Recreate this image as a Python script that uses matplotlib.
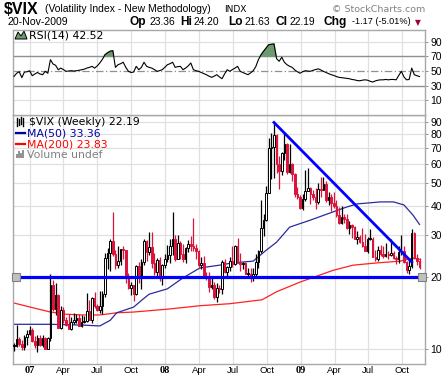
import datetime as dt
import numpy as np
import matplotlib
matplotlib.use("Agg")
import matplotlib.pyplot as plt
import matplotlib.dates as mdates
from matplotlib.patches import Polygon

# ---------------- data (weekly $VIX, week starting Monday) ----------------
start = dt.date(2006, 11, 20)

opens = [10.3, 10.3, 11.0, 10.5, 10.2, 11.2,
         11.6, 12.0, 10.8, 10.4, 11.1, 10.4, 11.1, 10.0, 11.1, 18.6, 14.7, 16.8, 12.2,
         14.6, 13.2, 12.6, 12.1, 13.0, 13.3, 13.5, 12.5, 13.0, 13.1, 14.5, 13.3, 16.4,
         15.2, 14.6, 15.2, 17.1, 24.2, 25.2, 28.5, 25.0, 22.6, 23.4, 26.2, 26.0, 20.3,
         18.0, 18.5, 17.0, 22.4, 19.9, 23.2, 28.5, 25.5, 26.8, 22.9, 21.0, 23.6, 20.0, 22.5,
         23.9, 24.9, 27.2, 29.0, 24.0, 28.0, 25.0, 24.0, 26.5, 27.5, 27.0, 26.6, 25.8,
         22.5, 23.0, 20.3, 20.1, 18.2, 18.6, 16.5, 18.0, 17.8, 23.1, 21.0, 22.1, 23.4,
         22.7, 27.0, 23.0, 22.7, 23.0, 20.7, 20.7, 19.8, 20.7, 23.1, 25.7, 32.1, 34.7,
         45.1, 70.0, 70.3, 79.1, 59.9, 56.1, 66.3, 72.7, 55.3, 59.9, 54.3, 44.9, 43.4,
         39.2, 42.8, 46.1, 47.3, 44.8, 43.4, 41.3, 47.1, 46.4, 49.3, 42.4, 43.4, 41.0,
         39.7, 36.7, 33.9, 35.8, 35.3, 32.1, 33.1, 32.6, 29.0, 29.6, 28.2, 27.0,
         25.9, 29.0, 29.0, 24.3, 23.9, 26.0, 25.0, 24.7, 25.0, 24.8, 25.3, 24.2, 23.9,
         25.6, 25.9, 23.1, 21.4, 22.3, 30.7, 24.2, 23.36]
highs = [10.6, 12.6, 11.2, 10.9, 11.4, 12.0,
         12.5, 12.3, 11.3, 11.5, 11.5, 11.5, 11.2, 11.2, 20.7, 19.5, 19.0, 17.0, 15.2,
         15.0, 13.6, 14.0, 13.6, 14.2, 14.0, 14.0, 13.9, 13.8, 17.2, 16.0, 16.5, 17.3,
         15.5, 17.6, 17.5, 25.3, 26.6, 29.0, 37.5, 26.0, 27.0, 26.3, 27.0, 26.0, 20.8,
         19.2, 18.5, 22.5, 23.2, 24.0, 28.9, 28.8, 31.1, 31.0, 25.2, 24.2, 24.3, 22.7, 25.0,
         27.4, 29.1, 37.6, 30.0, 30.0, 28.5, 27.6, 26.9, 28.6, 29.9, 35.6, 27.5, 26.0,
         24.3, 24.5, 21.0, 21.0, 19.8, 19.2, 19.0, 18.5, 23.6, 24.0, 22.3, 24.3, 27.0,
         27.4, 29.3, 25.3, 23.3, 23.3, 21.8, 22.0, 22.0, 25.0, 26.0, 42.2, 37.0, 48.4,
         76.9, 81.2, 89.5, 80.1, 64.8, 67.0, 81.5, 73.6, 72.7, 60.2, 54.8, 48.0, 44.5,
         45.0, 56.7, 57.4, 47.8, 46.5, 47.4, 50.0, 52.7, 53.0, 50.6, 45.8, 44.9, 45.6,
         42.4, 39.5, 40.0, 37.0, 37.0, 34.6, 33.6, 32.8, 31.3, 30.0, 32.1, 30.4,
         29.6, 32.0, 29.5, 26.0, 27.1, 27.3, 27.0, 28.0, 25.7, 29.0, 25.8, 24.6, 27.0,
         30.0, 27.0, 23.5, 24.0, 31.9, 31.0, 25.0, 24.20]
lows = [9.8, 10.2, 10.3, 9.9, 9.95, 10.4,
        11.5, 10.7, 10.1, 9.7, 10.3, 10.2, 10.0, 10.0, 10.8, 14.5, 13.9, 12.2, 12.1,
        12.8, 12.5, 12.1, 12.0, 12.7, 12.9, 12.5, 12.4, 12.8, 13.0, 13.2, 12.9, 14.9,
        14.4, 14.2, 14.0, 16.5, 21.6, 21.3, 24.5, 21.6, 22.0, 22.6, 24.0, 19.0, 17.9,
        16.8, 15.9, 16.9, 18.9, 17.8, 22.6, 23.4, 24.8, 21.8, 20.4, 20.0, 19.4, 18.6, 22.0,
        23.2, 23.0, 24.9, 23.5, 23.9, 24.0, 23.1, 22.9, 25.5, 25.7, 25.8, 23.8, 22.2,
        21.7, 19.8, 19.5, 17.4, 17.9, 16.2, 15.8, 17.2, 17.0, 20.8, 20.0, 21.3, 22.2,
        22.6, 22.9, 21.2, 21.6, 20.6, 19.8, 19.2, 19.4, 19.8, 21.8, 25.2, 29.9, 34.5,
        45.1, 52.0, 52.1, 55.0, 47.0, 54.0, 62.0, 54.5, 55.0, 50.6, 43.5, 42.6, 38.9,
        38.3, 42.0, 45.9, 40.6, 42.4, 38.9, 40.7, 43.6, 46.4, 41.5, 40.3, 38.1, 39.1,
        36.0, 33.5, 33.6, 33.9, 32.0, 30.5, 29.3, 28.9, 27.6, 27.8, 26.9, 25.9,
        25.3, 28.6, 24.3, 23.4, 23.5, 24.6, 24.2, 24.3, 23.8, 24.5, 23.8, 22.7, 23.0,
        24.9, 23.0, 20.8, 20.7, 21.8, 24.0, 22.5, 21.63]
closes = [10.3, 11.0, 10.5, 10.2, 11.2, 11.6,
          12.0, 10.8, 10.4, 11.1, 10.4, 11.1, 10.0, 11.1, 18.6, 14.7, 16.8, 12.2, 14.6,
          13.2, 12.6, 12.1, 13.0, 13.3, 13.5, 12.5, 13.0, 13.1, 14.5, 13.3, 16.4, 15.2,
          14.6, 15.2, 17.1, 24.2, 25.2, 28.5, 25.0, 22.6, 23.4, 26.2, 26.0, 20.3, 18.0,
          18.5, 17.0, 22.4, 19.9, 23.2, 28.5, 25.5, 26.8, 22.9, 21.0, 23.6, 20.0, 22.5, 23.9,
          24.9, 27.2, 29.0, 24.0, 28.0, 25.0, 24.0, 26.5, 27.5, 27.0, 26.6, 25.8, 22.5,
          23.0, 20.3, 20.1, 18.2, 18.6, 16.5, 18.0, 17.8, 23.1, 21.0, 22.1, 23.4, 22.7,
          27.0, 23.0, 22.7, 23.0, 20.7, 20.7, 19.8, 20.7, 23.1, 25.7, 32.1, 34.7, 45.1,
          70.0, 70.3, 79.1, 59.9, 56.1, 66.3, 72.7, 55.3, 59.9, 54.3, 44.9, 43.4, 39.2,
          42.8, 46.1, 47.3, 44.8, 43.4, 41.3, 47.1, 46.4, 49.3, 42.4, 43.4, 41.0, 39.7,
          36.7, 33.9, 35.8, 35.3, 32.1, 33.1, 32.6, 29.0, 29.6, 28.2, 27.0, 25.9,
          29.0, 29.0, 24.3, 23.9, 26.0, 25.0, 24.7, 25.0, 24.8, 25.3, 24.2, 23.9, 25.6,
          25.9, 23.1, 21.4, 22.3, 30.7, 24.2, 23.36, 22.19]

rsi = [42.7, 47, 49, 41, 48.6, 49, 50.4, 43.6, 46, 48, 46, 45, 49.6, 47, 65.5, 59.6,
       57.8, 51.8, 54, 52, 49.6, 50, 50.5, 50, 50.4, 51, 51.8, 52.5, 54, 55, 56.4, 54,
       57, 61, 66, 72.3, 75, 77, 77.8, 55, 58.6, 60, 62, 55, 49.6, 48, 48.6, 56.4, 51.8,
       55, 62, 56.4, 55, 54, 52, 49.6, 50.5, 51.8, 55, 58.6, 60, 62, 55, 56, 56.4, 51.8,
       54, 57, 61, 51.8, 50.5, 49.6, 48, 46.5, 45, 43, 41.4, 43, 45, 42, 39.5, 46, 51.8,
       49.6, 52, 54, 56.4, 49.6, 48, 46.5, 45, 47.5, 50.4, 56, 65.5, 72, 77, 81.5, 86,
       86.5, 87, 66.8, 63.3, 68.8, 62, 58.6, 56.5, 55, 51.5, 49, 47, 49, 50.4, 50, 49.6,
       51, 52, 53, 51.5, 49.6, 48, 46.5, 45, 44, 42.5, 41.4, 41, 40.5, 40, 39.5, 38.5,
       38, 37, 36.7, 37.5, 38, 37.5, 36, 35, 36.5, 37.5, 38, 38, 38.5, 38, 38.5, 38.5,
       38, 44, 49.6, 42, 38, 38.5, 54, 45, 43.6, 42.52]

ma50_weeks = [0, 14, 26.5, 33, 37, 39.5, 46, 49.6, 52, 59, 65, 71.5, 79, 84, 92, 97,
              101, 106, 114, 122.5, 128, 132, 141, 146, 150, 153.5, 156]
ma50_vals = [12.7, 12.7, 12.6, 12.5, 13.2, 14.2, 15.0, 16.2, 17.0, 17.9, 19.9, 21.9,
             22.5, 23.0, 23.4, 26.0, 28.1, 32.5, 34.8, 37.6, 39.5, 40.7, 41.5, 41.5,
             40.3, 36.5, 33.36]
ma200_weeks = [0, 7.3, 14, 20, 26.5, 33, 39.6, 46, 59, 71.5, 83, 95.4, 101, 110,
               122.7, 130.4, 139.6, 148.5, 153.5, 156]
ma200_vals = [15.6, 14.9, 14.3, 14.0, 13.9, 13.9, 14.2, 14.3, 14.7, 15.2, 15.5, 16.1,
              17.4, 19.1, 21.4, 22.5, 23.0, 23.4, 24.1, 23.83]

trend_weeks = [100, 153]
trend_vals = [89.5, 23.2]
support_level = 20.0

price_ticks = [10, 20, 30, 40, 50, 60, 70, 80, 90]
rsi_ticks = [10, 30, 50, 70, 90]
date_ticks = [dt.date(y, m, 1) for y in (2007, 2008, 2009) for m in (1, 4, 7, 10)]
date_labels = ["07", "Apr", "Jul", "Oct", "08", "Apr", "Jul", "Oct", "09", "Apr", "Jul", "Oct"]

# ---------------- figure ----------------
W, H = 447, 377
fig = plt.figure(figsize=(W / 100, H / 100), dpi=100)
fig.patch.set_facecolor("white")

def fx(px):
    return px / W

def fy(py):
    return 1 - py / H

L, R = 13, 425
PT, PB = 115, 364
RT = 30

def wk2num(w):
    return mdates.date2num(start) + 7.0 * np.asarray(w, dtype=float)

n = len(closes)
xd = wk2num(np.arange(n))
xmin, xmax = wk2num(-0.4), wk2num(158.1)

GRID = "#e0e0e0"
FRAME = "#a8a8a8"
RED = "#dc143c"
SANS = "Liberation Sans"

ax = fig.add_axes([fx(L), fy(PB), fx(R) - fx(L), fy(PT) - fy(PB)])
axr = fig.add_axes([fx(L), fy(PT), fx(R) - fx(L), fy(RT) - fy(PT)])

for a in (ax, axr):
    a.set_facecolor("white")
    a.set_xlim(xmin, xmax)
    for s in a.spines.values():
        s.set_color(FRAME)
        s.set_linewidth(1.0)
    a.yaxis.tick_right()
    a.tick_params(axis="y", which="both", direction="out", length=2.5, width=0.6,
                  color="#808080", pad=1.5, labelsize=7.2)
    a.tick_params(axis="x", which="both", length=0)
    a.set_xticks([])
    for d in date_ticks:
        a.axvline(mdates.date2num(d), color=GRID, lw=0.9, zorder=0)

# ---------------- price panel ----------------
ax.set_yscale("log")
ax.set_ylim(8.65, 96.2)
ax.yaxis.set_major_locator(matplotlib.ticker.FixedLocator(price_ticks))
ax.yaxis.set_minor_locator(matplotlib.ticker.NullLocator())
ax.yaxis.set_major_formatter(matplotlib.ticker.FixedFormatter([str(t) for t in price_ticks]))
for t in price_ticks:
    ax.axhline(t, color=GRID, lw=0.9, zorder=0)
for lab in ax.get_yticklabels():
    lab.set_fontfamily(SANS)
    lab.set_fontsize(7.5)

# date labels (drawn as text under the price panel)
bt = ax.get_xaxis_transform()
for d, txt in zip(date_ticks, date_labels):
    if txt.isdigit():
        ax.text(mdates.date2num(d), -0.028, txt, transform=bt, ha="center", va="center",
                family="Liberation Serif", fontweight="bold", fontsize=7.5)
    else:
        ax.text(mdates.date2num(d), -0.028, txt, transform=bt, ha="center", va="center",
                family=SANS, fontsize=6.8)

# moving averages
ax.plot(wk2num(ma200_weeks), ma200_vals, color="#ff2020", lw=0.9, zorder=2)
ax.plot(wk2num(ma50_weeks), ma50_vals, color="#2a2aa0", lw=0.9, zorder=2)

# candles
o = np.array(opens); h = np.array(highs); lo = np.array(lows); c = np.array(closes)
prev = np.concatenate([[c[0]], c[:-1]])
cols = [RED if c[i] < prev[i] else "black" for i in range(n)]
ax.vlines(xd, lo, h, colors=cols, lw=0.9, zorder=3)
bot = np.minimum(o, c)
top = np.maximum(o, c)
top = np.maximum(top, bot * 1.006)
faces = ["white" if c[i] > o[i] else cols[i] for i in range(n)]
ax.bar(xd, top - bot, bottom=bot, width=4.0, color=faces, edgecolor=cols,
       linewidth=0.7, zorder=4)

# drawn lines
ax.axhline(support_level, color="#0000ff", lw=2.3, zorder=5)
tr = ax.get_yaxis_transform()
ax.plot([0.008, 0.992], [support_level, support_level], "s", ms=5.5,
        mfc="#c0c0c0", mec="#808080", mew=0.8, transform=tr, zorder=6, clip_on=False)
ax.plot(wk2num(trend_weeks), trend_vals, color="#0000ff", lw=2.0, zorder=5)

# legend texts
ta = ax.transAxes
def axpx(px, py):
    return ((px - L) / (R - L), (PB - py) / (PB - PT))

leg = [("$VIX (Weekly) 22.19", "black", 122), ("MA(50) 33.36", "#0000a0", 133),
       ("MA(200) 23.83", "#ff0000", 144), ("Volume undef", "#808080", 155)]
for txt, col, yy in leg:
    xx = 29 if txt.startswith("$") else 27
    ax.text(*axpx(xx, yy), txt, color=col, fontsize=7.8, va="center", ha="left",
            transform=ta, parse_math=False, zorder=7, family="DejaVu Sans")
# legend icons
x0, y0 = axpx(16, 133); x1, _ = axpx(25, 133)
ax.plot([x0, x1], [y0, y0], color="#0000a0", lw=1.6, transform=ta, zorder=7)
x0, y0 = axpx(16, 144); x1, _ = axpx(25, 144)
ax.plot([x0, x1], [y0, y0], color="#ff0000", lw=1.6, transform=ta, zorder=7)
for k, hh in enumerate([4, 7, 5, 8]):
    xa, ya = axpx(16.5 + k * 2.2, 158)
    _, yb = axpx(0, 158 - hh)
    ax.plot([xa, xa], [ya, yb], color="#909090", lw=1.4, transform=ta, zorder=7,
            solid_capstyle="butt")
for k, (yl, yh) in enumerate([(118, 126), (119, 125), (117, 124), (118, 126)]):
    xa, ya = axpx(16.5 + k * 2.2, yh)
    _, yb = axpx(0, yl)
    ax.plot([xa, xa], [ya, yb], color="black", lw=1.0, transform=ta, zorder=7)

# ---------------- RSI panel ----------------
axr.set_ylim(-10, 106)
axr.set_yticks(rsi_ticks)
axr.set_yticklabels([str(t) for t in rsi_ticks])
for lab in axr.get_yticklabels():
    lab.set_fontfamily(SANS)
    lab.set_fontsize(7.5)
for t in (10, 90):
    axr.axhline(t, color=GRID, lw=0.9, zorder=0)
axr.axhline(70, color="#909090", lw=1.0, zorder=1)
axr.axhline(30, color="#909090", lw=1.0, zorder=1)
axr.axhline(50, color="#909090", lw=0.9, ls=(0, (6, 2, 1, 2)), zorder=1)
rv = np.array(rsi)
axr.fill_between(xd, rv, 70, where=rv > 70, interpolate=True, color="#6f9a6f", zorder=2)
axr.plot(xd, rv, color="black", lw=0.8, zorder=3)
axr.text(*((29 - L) / (R - L), (PT - 35) / (PT - RT)), "RSI(14) 42.52", fontsize=7.8,
         va="center", ha="left", transform=axr.transAxes, family="DejaVu Sans")
poly = Polygon([((15 - L) / (R - L), (PT - 39) / (PT - RT)),
                ((18 - L) / (R - L), (PT - 32) / (PT - RT)),
                ((21 - L) / (R - L), (PT - 36) / (PT - RT)),
                ((24 - L) / (R - L), (PT - 31) / (PT - RT)),
                ((27 - L) / (R - L), (PT - 39) / (PT - RT))],
               closed=True, facecolor="#6f9a6f", edgecolor="black", lw=0.7,
               transform=axr.transAxes)
axr.add_patch(poly)

# ---------------- header ----------------
fig.text(fx(4), fy(9), "$VIX", fontsize=11.5, fontweight="bold", family=SANS,
         va="center", ha="left", parse_math=False)
fig.text(fx(45), fy(9.5), "(Volatility Index - New Methodology)", fontsize=7.5,
         family=SANS, va="center", ha="left")
fig.text(fx(224), fy(9.5), "INDX", fontsize=6.5, family="DejaVu Sans", va="center", ha="left")
fig.text(fx(425), fy(9.5), "\u00a9 StockCharts.com", fontsize=6.8, family="DejaVu Sans",
         color="#808080", va="center", ha="right")
fig.text(fx(7), fy(22), "20-Nov-2009", fontsize=7.6, family=SANS, va="center", ha="left")
hdr = [(130, "Op", True), (150, "23.36", False), (180, "Hi", True), (193, "24.20", False),
       (228, "Lo", True), (245, "21.63", False), (276, "Cl", True), (289, "22.19", False),
       (324, "Chg", True)]
for xx, txt, b in hdr:
    fig.text(fx(xx), fy(22), txt, fontsize=8.6 if b else 7.4, family=SANS,
             fontweight="bold" if b else "normal", va="center", ha="left")
fig.text(fx(411), fy(22), "-1.17 (-5.01%)", fontsize=6.6, family=SANS,
         va="center", ha="right")
fig.text(fx(418), fy(22.5), "\u25bc", fontsize=5.5, color="#a0003c", family="DejaVu Sans",
         va="center", ha="center")

fig.savefig("out.png", dpi=100, facecolor="white")
